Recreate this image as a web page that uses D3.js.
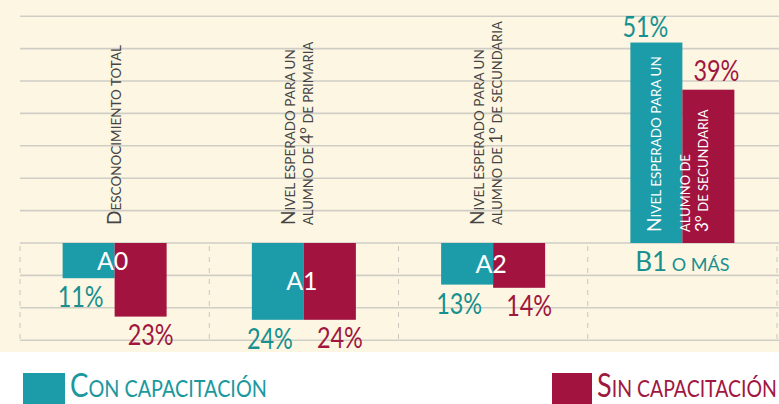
<!DOCTYPE html>
<html><head><meta charset="utf-8">
<script src="https://cdn.jsdelivr.net/npm/d3@7"></script>
<style>html,body{margin:0;padding:0;background:#fff;} svg{display:block;}</style>
</head><body>
<svg id="chart" width="779" height="404"></svg>
<script>
// ---- data ----
const categories = ["A0", "A1", "A2", "B1"];
const levelLabels = ["A0", "A1", "A2", "B1 o más"];
const conValues = [11, 24, 13, 51];
const sinValues = [23, 24, 14, 39];
const belowExpected = [true, true, true, false];
const categoryLabels = [
  ["Desconocimiento total"],
  ["Nivel esperado para un", "alumno de 4° de primaria"],
  ["Nivel esperado para un", "alumno de 1° de secundaria"],
  ["Nivel esperado para un", "alumno de", "3° de secundaria"]
];
const seriesKeys = ["con", "sin"];
const seriesNames = ["Con capacitación", "Sin capacitación"];

// ---- styles ----
const W = 779, H = 404;
const FONT = "Lato, 'Open Sans', sans-serif";
const colBar = { con: "#1c9ba8", sin: "#a3133f" };
const colText = { con: "#17908f", sin: "#a0173f" };
const cream = "#fcf6e2";
const gridCol = "#cfcdc5";
const labelGray = "#444444";

const svg = d3.select("#chart");
svg.append("rect").attr("width", W).attr("height", H).attr("fill", "#fff");
svg.append("rect").attr("width", W).attr("height", 352).attr("fill", cream);

// ---- scales ----
const x = d3.scaleBand().domain(categories).range([20, 777]).padding(0);
const pairW = 104;
const xs = d3.scaleBand().domain(seriesKeys).range([0, pairW]);
const off = (x.bandwidth() - pairW) / 2;
const y = d3.scaleLinear().domain([-25, 0, 52]).range([323, 243, 38.6]);
const y0 = y(0);

// ---- grid ----
const gridYs = d3.range(-7, 4).map(i => y0 + i * 32.4);
svg.append("g").selectAll("line").data(gridYs).join("line")
  .attr("x1", 20).attr("x2", W).attr("y1", d => d).attr("y2", d => d)
  .attr("stroke", gridCol).attr("stroke-width", 1.6);
const vLines = categories.map(c => x(c)).concat([x.range()[1]]);
svg.append("g").selectAll("line").data(vLines).join("line")
  .attr("x1", d => d).attr("x2", d => d).attr("y1", y0 + 3).attr("y2", gridYs[gridYs.length - 1])
  .attr("stroke", "#c9c7be").attr("stroke-width", 1).attr("stroke-dasharray", "5,6");

// ---- rows ----
const rows = categories.map((c, i) => ({
  cat: c, i, below: belowExpected[i],
  vals: { con: conValues[i], sin: sinValues[i] }
}));
const signed = (r, k) => (r.below ? -1 : 1) * r.vals[k];
const bx = (r, k) => x(r.cat) + off + xs(k);
const junction = r => x(r.cat) + off + xs("sin");

// ---- bars ----
rows.forEach(r => {
  seriesKeys.forEach(k => {
    const v = signed(r, k);
    svg.append("rect")
      .attr("x", bx(r, k)).attr("width", xs.bandwidth())
      .attr("y", Math.min(y0, y(v))).attr("height", Math.abs(y(v) - y0))
      .attr("fill", colBar[k]);
  });
});

// ---- helpers ----
function smallCaps(textSel, str, big, small) {
  const pieces = str.split(/(\d°)/).filter(p => p.length);
  pieces.forEach((p, pi) => {
    if (/^\d°$/.test(p)) {
      textSel.append("tspan").attr("font-size", big).text(p);
    } else {
      let s = p;
      if (pi === 0 && /[A-ZÁÉÍÓÚ]/.test(s[0])) {
        textSel.append("tspan").attr("font-size", big).text(s[0]);
        s = s.slice(1);
      }
      if (s.length) textSel.append("tspan").attr("font-size", small).text(s.toUpperCase());
    }
  });
}
function fitWidth(textSel, px, py, target) {
  const w = textSel.node().getComputedTextLength();
  const sx = w > 0 ? target / w : 1;
  textSel.attr("transform", `translate(${px},${py}) scale(${sx},1)`);
}

// ---- category labels (vertical) ----
rows.forEach(r => {
  const lines = categoryLabels[r.i];
  const j = junction(r);
  lines.forEach((line, li) => {
    let cx, bottom, fill;
    if (r.below) {
      cx = lines.length === 1 ? j + 1 : j - 14 + li * 18;
      bottom = y0 - 18;
      fill = labelGray;
    } else {
      cx = li === 0 ? bx(r, "con") + xs.bandwidth() / 2 : j + 3 + (li - 1) * 18;
      bottom = y0 - 11;
      fill = "#fff";
    }
    const small = li === 0 ? 13.5 : 13;
    const big = li === 0 ? 19 : 17;
    const t = svg.append("text")
      .attr("transform", `translate(${cx},${bottom}) rotate(-90)`)
      .attr("dy", (0.36 * small) + "px")
      .attr("font-family", FONT).attr("fill", fill)
      .attr("text-anchor", "start");
    smallCaps(t, line, big, small);
  });
});

// ---- level labels ----
rows.forEach(r => {
  const j = junction(r);
  const lbl = levelLabels[r.i];
  if (r.below) {
    const mid = (y0 + y(signed(r, "con"))) / 2;
    svg.append("text").attr("x", j - 2).attr("y", mid + 9)
      .attr("text-anchor", "middle").attr("font-family", FONT)
      .attr("font-size", 25).attr("fill", "#fff").text(lbl);
  } else {
    const sp = lbl.indexOf(" ");
    const t = svg.append("text").attr("x", j).attr("y", y0 + 28)
      .attr("text-anchor", "middle").attr("font-family", FONT)
      .attr("fill", colText.con);
    t.append("tspan").attr("font-size", 26).text(lbl.slice(0, sp));
    t.append("tspan").attr("font-size", 18).text(lbl.slice(sp).toUpperCase());
  }
});

// ---- percent labels ----
rows.forEach(r => {
  seriesKeys.forEach(k => {
    const v = signed(r, k);
    const left = bx(r, k), right = left + xs.bandwidth();
    let px, py, anchor;
    if (r.below) {
      if (k === "con") { px = left - 5; anchor = "start"; py = y(v) + 29; }
      else { px = right + 7; anchor = "end"; py = y(v) + 28; }
    } else {
      if (k === "con") { px = right - 14; anchor = "end"; py = y(v) - 6; }
      else { px = left + 11; anchor = "start"; py = y(v) - 9; }
    }
    const t = svg.append("text")
      .attr("text-anchor", anchor).attr("font-family", FONT)
      .attr("font-size", 28).attr("fill", colText[k])
      .text(r.vals[k] + "%");
    fitWidth(t, px, py, 46);
  });
});

// ---- legend ----
const legendItems = [
  { k: "con", name: seriesNames[0], rx: 23, rw: 42, tx: 70, tl: 197 },
  { k: "sin", name: seriesNames[1], rx: 552, rw: 40, tx: 597, tl: 180 }
];
legendItems.forEach(it => {
  svg.append("rect").attr("x", it.rx).attr("y", 373).attr("width", it.rw).attr("height", 31)
    .attr("fill", colBar[it.k]);
  const t = svg.append("text")
    .attr("font-family", FONT).attr("fill", it.k === "con" ? "#1b989e" : colText.sin);
  smallCaps(t, it.name, 32, 23);
  fitWidth(t, it.tx, 397, it.tl);
});
</script>
</body></html>
